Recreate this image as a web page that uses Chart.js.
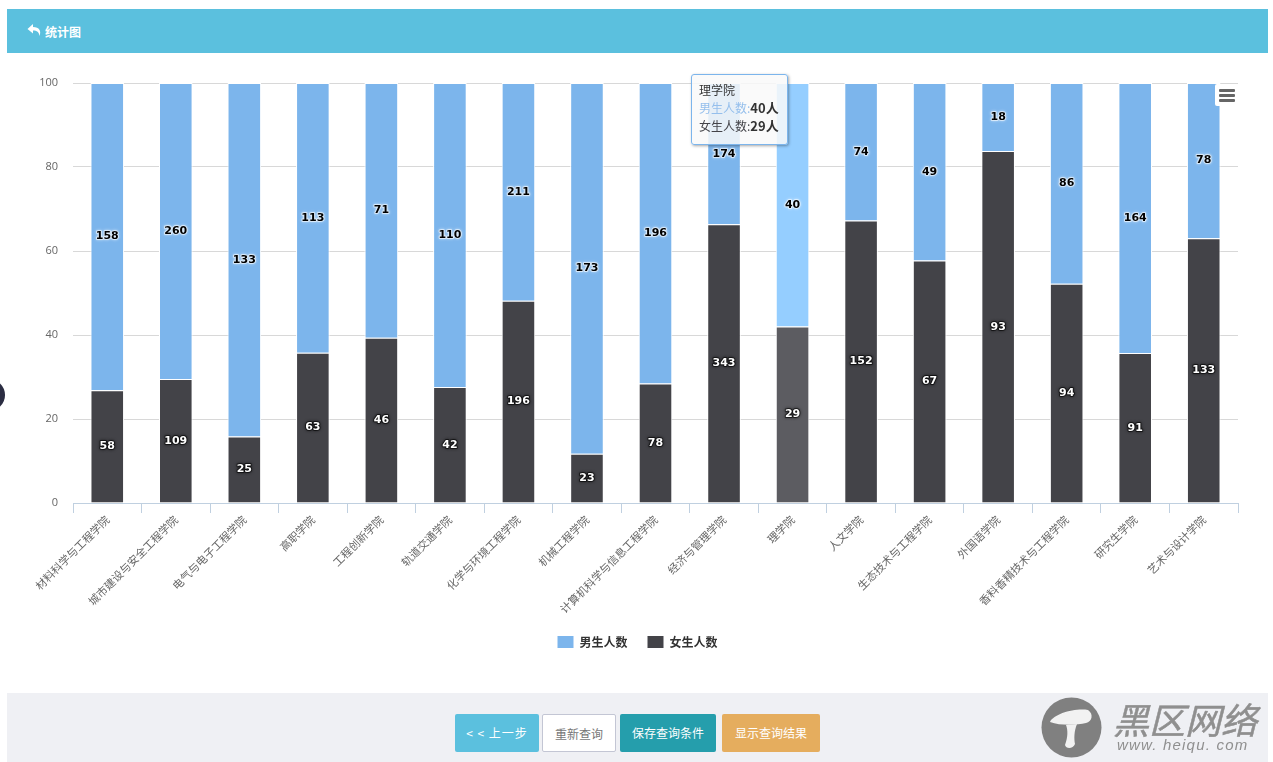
<!DOCTYPE html>
<html>
<head>
<meta charset="utf-8">
<script src="https://cdn.jsdelivr.net/npm/chart.js@4"></script>
<style>
html, body { margin: 0; padding: 0; background: #fff; overflow: hidden; }
body { width: 1273px; height: 762px; position: relative; font-family: "Noto Sans CJK SC", sans-serif; }
.header { position: absolute; left: 7px; top: 9px; width: 1261px; height: 44px; background: #5bc0de; color: #fff; font-size: 12px; font-weight: 700; line-height: 46px; }
.header svg { position: absolute; left: 20px; top: 14px; }
.header span { position: absolute; left: 38px; }
#wrap { position: absolute; left: 7px; top: 53px; width: 1261px; height: 640px; }
.menu { position: absolute; left: 1215px; top: 84px; width: 23px; height: 22px; background: #fff; border-radius: 2px; }
.menu i { position: absolute; left: 4px; width: 16px; height: 3px; background: #666; border-radius: 1px; }
.blob { position: absolute; left: -27px; top: 379px; width: 32px; height: 32px; border-radius: 50%; background: #2b2d42; }
.footer { position: absolute; left: 7px; top: 693px; width: 1261px; height: 69px; background: #eff0f4; }
.btn { position: absolute; top: 714px; height: 38px; line-height: 37px; text-align: center; font-size: 12px; border-radius: 2px; color: #fff; box-sizing: border-box; }
.wm { position: absolute; color: #8f8f8f; }
#tip { position: absolute; box-sizing: border-box; background: rgba(249,249,249,.85); border: 1px solid #7cb5ec; border-radius: 3px; box-shadow: 1px 1px 3px rgba(0,0,0,.35); padding: 6px 7px; font-size: 12px; line-height: 18px; color: #333; white-space: nowrap; pointer-events: none; }
#tip b { font-weight: 700; font-size: 13px; }
</style>
</head>
<body>
<div class="header">
  <svg width="15" height="15" viewBox="0 0 15 15"><path d="M6 1 L0.5 6 L6 10.5 V7.5 C10 7.5 12 9 12.5 13 C14.5 8 12.5 4 6 4 Z" fill="#fff"/></svg>
  <span>统计图</span>
</div>
<div id="wrap"><canvas id="collegeChart" width="1261" height="640"></canvas></div>
<div class="menu"><i style="top:5px"></i><i style="top:10px"></i><i style="top:15px"></i></div>
<div class="blob"></div>
<div class="footer"></div>
<div class="btn" style="left:455px;width:84px;background:#5bc0de;letter-spacing:1px">&lt; &lt; 上一步</div>
<div class="btn" style="left:542px;width:74px;background:#fff;border:1px solid #c3c6d4;color:#777">重新查询</div>
<div class="btn" style="left:620px;width:96px;background:#259eac">保存查询条件</div>
<div class="btn" style="left:722px;width:98px;background:#e5ad5e">显示查询结果</div>
<svg style="position:absolute;left:1041px;top:697px" width="61" height="61" viewBox="0 0 61 61">
  <circle cx="30.5" cy="30.5" r="30" fill="#808080"/>
  <path d="M9 25 C13 17 33 11 47 13 C53 17 51 25 45 26 C36 28 20 29 9 25 Z" fill="#f2f2f2"/>
  <path d="M25 28 L36 27 C33 34 33 42 34 47 C32 52 25 52 24 48 C27 40 27 33 25 28 Z" fill="#f2f2f2"/>
</svg>
<div class="wm" style="left:1113px;top:693px;font-size:36px;font-style:italic;line-height:50px;-webkit-text-stroke:.5px #8f8f8f">黑区网络</div>
<div class="wm" style="left:1117px;top:736px;font-size:15px;font-family:'Liberation Sans';font-style:italic;letter-spacing:1.2px;line-height:18px;white-space:nowrap">www. heiqu. com</div>

<script>
const categories = ['材料科学与工程学院', '城市建设与安全工程学院', '电气与电子工程学院', '高职学院', '工程创新学院', '轨道交通学院', '化学与环境工程学院', '机械工程学院', '计算机科学与信息工程学院', '经济与管理学院', '理学院', '人文学院', '生态技术与工程学院', '外国语学院', '香料香精技术与工程学院', '研究生学院', '艺术与设计学院'];
const maleCounts = [158, 260, 133, 113, 71, 110, 211, 173, 196, 174, 40, 74, 49, 18, 86, 164, 78];
const femaleCounts = [58, 109, 25, 63, 46, 42, 196, 23, 78, 343, 29, 152, 67, 93, 94, 91, 133];
const yTicks = [0, 20, 40, 60, 80, 100];
const hoveredIndex = 10;

// share of each college, the axis is percent
const malePct = maleCounts.map((v, i) => v / (v + femaleCounts[i]) * 100);
const femalePct = femaleCounts.map((v, i) => v / (v + maleCounts[i]) * 100);

const fontName = '"Noto Sans CJK SC", sans-serif';

// prints the head count in the middle of every bar segment
const countLabels = {
    id: 'countLabels',
    afterDatasetsDraw(chart) {
        const ctx = chart.ctx;
        ctx.save();
        ctx.font = '700 11px "DejaVu Sans", sans-serif';
        ctx.textAlign = 'center';
        ctx.textBaseline = 'middle';
        chart.data.datasets.forEach((ds, d) => {
            const dark = d === 1;
            chart.getDatasetMeta(d).data.forEach((bar, i) => {
                const text = String(ds.counts[i]);
                const y = (bar.y + bar.base) / 2;
                ctx.shadowColor = dark ? '#000' : '#fff';
                ctx.shadowBlur = 3;
                ctx.lineWidth = 2;
                ctx.lineJoin = 'round';
                ctx.strokeStyle = dark ? 'rgba(0,0,0,.55)' : 'rgba(255,255,255,.55)';
                ctx.strokeText(text, bar.x, y);
                ctx.shadowBlur = 0;
                ctx.fillStyle = dark ? '#fff' : '#000';
                ctx.fillText(text, bar.x, y);
            });
        });
        ctx.restore();
    }
};

function htmlTooltip(context) {
    let tip = document.getElementById('tip');
    if (!tip) {
        tip = document.createElement('div');
        tip.id = 'tip';
        document.body.appendChild(tip);
    }
    const i = hoveredIndex;
    tip.innerHTML = categories[i] +
        '<br><span style="color:#95bfec">男生人数:</span><b>' + maleCounts[i] + '人</b>' +
        '<br><span style="color:#434348">女生人数:</span><b>' + femaleCounts[i] + '人</b>';
    tip.style.left = '691px';
    tip.style.top = '74px';
    tip.style.width = '97px';
    tip.style.height = '71px';
}

const chart = new Chart(document.getElementById('collegeChart'), {
    type: 'bar',
    plugins: [countLabels],
    data: {
        labels: categories,
        datasets: [{
            label: '男生人数',
            data: malePct,
            counts: maleCounts,
            order: 2,
            backgroundColor: '#7cb5ec',
            hoverBackgroundColor: '#95ceff',
            borderColor: '#fff',
            hoverBorderColor: '#fff',
            borderWidth: 1,
            barPercentage: 0.49,
            categoryPercentage: 1
        }, {
            label: '女生人数',
            data: femalePct,
            counts: femaleCounts,
            order: 1,
            backgroundColor: '#434348',
            hoverBackgroundColor: '#5c5c61',
            borderColor: '#fff',
            hoverBorderColor: '#fff',
            borderWidth: 1,
            barPercentage: 0.49,
            categoryPercentage: 1
        }]
    },
    options: {
        responsive: false,
        animation: false,
        interaction: { mode: 'index', intersect: false },
        events: [],
        layout: { padding: { left: 30, right: 30, top: 30, bottom: 35 } },
        scales: {
            x: {
                stacked: true,
                grid: { offset: true, drawOnChartArea: false, drawTicks: true, tickLength: 10, color: '#c0d0e0' },
                border: { color: '#c0d0e0' },
                ticks: {
                    autoSkip: false,
                    minRotation: 45,
                    maxRotation: 45,
                    padding: 0,
                    color: '#666',
                    font: { family: fontName, size: 11 }
                },
                afterFit(scale) { scale.height = 113; }
            },
            y: {
                stacked: true,
                min: 0,
                max: 100,
                afterBuildTicks(scale) { scale.ticks = yTicks.map(v => ({ value: v })); },
                grid: { color: '#d8d8d8', drawTicks: false },
                border: { display: false },
                ticks: {
                    padding: 15,
                    color: '#666',
                    font: { family: '"Open Sans", sans-serif', size: 11 }
                },
                afterFit(scale) { scale.width = 36; }
            }
        },
        plugins: {
            legend: {
                position: 'bottom',
                labels: {
                    boxWidth: 16,
                    boxHeight: 12,
                    padding: 20,
                    color: '#333',
                    font: { family: fontName, size: 12, weight: '700' },
                    generateLabels(c) {
                        return c.data.datasets.map((ds, i) => ({
                            text: ds.label,
                            fontColor: '#333',
                            fillStyle: ds.backgroundColor,
                            strokeStyle: ds.backgroundColor,
                            lineWidth: 0,
                            datasetIndex: i
                        }));
                    }
                }
            },
            tooltip: { enabled: false, external: htmlTooltip }
        }
    }
});

// keep 理学院 in its hovered state as in the picture
const activeBars = [{ datasetIndex: 0, index: hoveredIndex }, { datasetIndex: 1, index: hoveredIndex }];
chart.setActiveElements(activeBars);
chart.tooltip.setActiveElements(activeBars, { x: 0, y: 0 });
chart.update();
htmlTooltip({ chart: chart });
</script>
</body>
</html>
